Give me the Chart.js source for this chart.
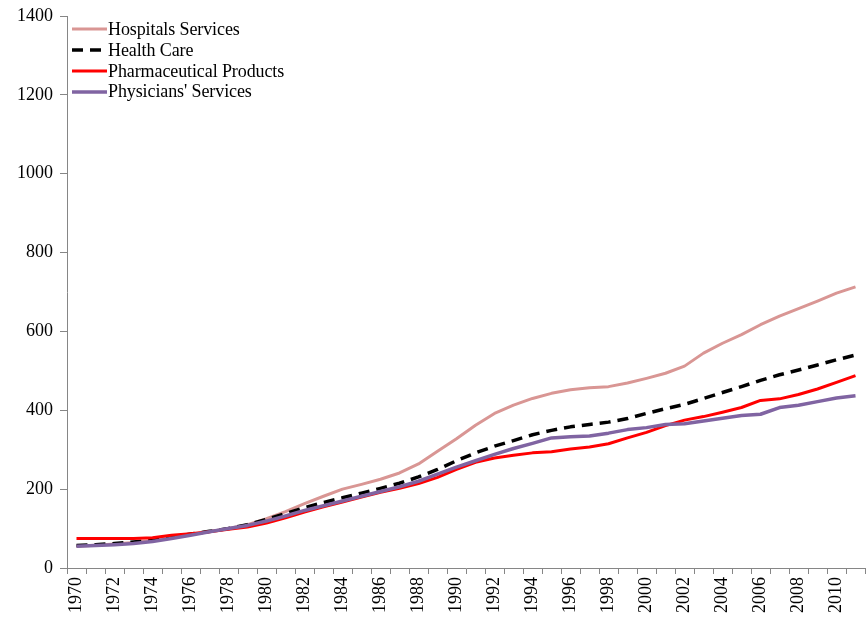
<!DOCTYPE html>
<html>
<head>
<meta charset="utf-8">
<script src="https://cdn.jsdelivr.net/npm/chart.js@4.4.1/dist/chart.umd.min.js"></script>
<style>
  html, body { margin: 0; padding: 0; background: #fff; }
  #wrap { position: relative; width: 868px; height: 620px; }
  #legend { position: absolute; left: 72px; top: 19px; font-family: 'Liberation Serif', 'Times New Roman', serif; font-size: 18px; color: #000; }
  .item { display: flex; align-items: center; height: 20.8px; white-space: nowrap; letter-spacing: -0.1px; }
  .item svg { margin-right: 1px; }
</style>
</head>
<body>
<div id="wrap">
  <canvas id="c" width="868" height="620"></canvas>
  <div id="legend"></div>
</div>
<script>
const years = [];
for (let y = 1970; y <= 2011; y++) years.push(String(y));

const seriesNames = ["Hospitals Services", "Health Care", "Pharmaceutical Products", "Physicians' Services"];

const hospitals = [55, 58, 61, 65, 70, 77, 85, 92, 100, 110, 125, 143, 163, 182, 200, 212, 225, 241, 264, 296, 328, 362, 392, 413, 430, 443, 452, 457, 460, 469, 481, 494, 512, 545, 570, 592, 617, 639, 658, 677, 697, 713];
const healthCare = [57, 59, 62, 66, 71, 78, 86, 93, 100, 110, 123, 138, 153, 166, 178, 190, 202, 215, 231, 250, 272, 292, 309, 323, 338, 349, 358, 364, 370, 379, 392, 404, 415, 430, 445, 460, 476, 490, 502, 515, 528, 540];
const pharma = [75, 75, 75, 75, 77, 83, 87, 92, 98, 104, 114, 127, 142, 155, 167, 180, 192, 202, 214, 230, 250, 268, 279, 286, 292, 295, 302, 307, 315, 330, 344, 361, 375, 384, 395, 407, 425, 429, 440, 454, 471, 488];
const physicians = [55, 57, 59, 62, 67, 75, 83, 92, 100, 108, 119, 132, 146, 158, 170, 182, 194, 206, 220, 238, 256, 272, 288, 303, 316, 330, 333, 335, 342, 351, 356, 364, 366, 373, 380, 387, 390, 407, 413, 422, 431, 437];

const yTicks = [0, 200, 400, 600, 800, 1000, 1200, 1400];

const FONT = "'Liberation Serif', 'Times New Roman', serif";
const AXIS = '#868686';

const datasets = [
  { label: seriesNames[0], data: hospitals, borderColor: '#D99694', borderWidth: 3, order: 3 },
  { label: seriesNames[1], data: healthCare, borderColor: '#000000', borderWidth: 3.5, borderDash: [11, 7], order: 2 },
  { label: seriesNames[2], data: pharma, borderColor: '#FF0000', borderWidth: 3, order: 1 },
  { label: seriesNames[3], data: physicians, borderColor: '#8064A2', borderWidth: 3.5, order: 0 }
].map(d => Object.assign({ pointRadius: 0, pointHoverRadius: 0, tension: 0, fill: false, borderCapStyle: 'butt', borderJoinStyle: 'round' }, d));

const chart = new Chart(document.getElementById('c'), {
  type: 'line',
  data: { labels: years, datasets },
  options: {
    responsive: false,
    animation: false,
    events: [],
    layout: { padding: { left: 0, right: 3, top: 16, bottom: 0 } },
    plugins: { legend: { display: false }, tooltip: { enabled: false } },
    scales: {
      x: {
        type: 'category',
        offset: true,
        grid: { display: true, offset: true, drawOnChartArea: false, drawTicks: true, tickLength: 6, color: AXIS, lineWidth: 1 },
        border: { display: true, color: AXIS, width: 1 },
        ticks: {
          autoSkip: false, maxRotation: 90, minRotation: 90, padding: 3,
          color: '#000', font: { family: FONT, size: 18 },
          callback: function (v, i) { return i % 2 === 0 ? this.getLabelForValue(v) : ''; }
        },
        afterFit: s => { s.height = 52; s.paddingLeft = 0; s.paddingRight = 0; }
      },
      y: {
        min: 0, max: 1400,
        afterBuildTicks: s => { s.ticks = yTicks.map(v => ({ value: v })); },
        grid: { display: true, drawOnChartArea: false, drawTicks: true, tickLength: 7, color: AXIS, lineWidth: 1 },
        border: { display: true, color: AXIS, width: 1 },
        ticks: { color: '#000', padding: 7, font: { family: FONT, size: 18 }, callback: v => String(v) },
        afterFit: s => { s.width = 67; s.paddingTop = 0; s.paddingBottom = 0; }
      }
    }
  }
});

// HTML legend built from the chart's datasets
const leg = document.getElementById('legend');
chart.data.datasets.forEach(ds => {
  const row = document.createElement('div');
  row.className = 'item';
  const dash = ds.borderDash ? `stroke-dasharray="${ds.borderDash.join(' ')}"` : '';
  row.innerHTML = `<svg width="35" height="6"><line x1="0" y1="3" x2="35" y2="3" stroke="${ds.borderColor}" stroke-width="${ds.borderWidth}" ${dash}/></svg><span>${ds.label}</span>`;
  leg.appendChild(row);
});
</script>
</body>
</html>
